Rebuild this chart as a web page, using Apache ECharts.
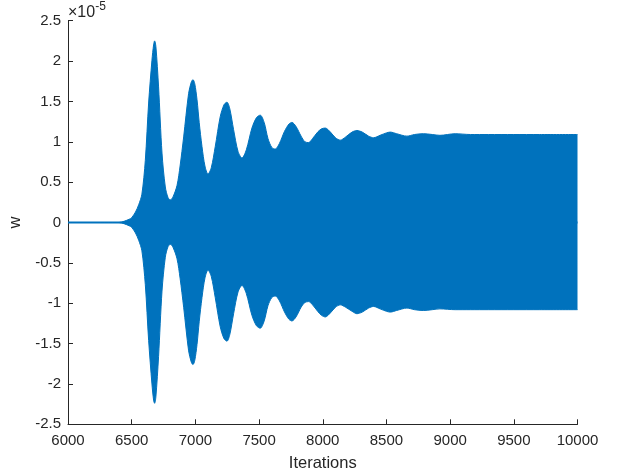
<!DOCTYPE html>
<html>
<head>
<meta charset="utf-8">
<script src="https://cdn.jsdelivr.net/npm/echarts@6/dist/echarts.min.js"></script>
<style>html,body{margin:0;padding:0;background:#fff}#c{width:623px;height:474px}</style>
</head>
<body>
<div id="c"></div>
<script>
// Envelope of the fast oscillation of w (values in units of 1e-5), shared iteration positions
const iters = [6000,6400,6440,6480,6500,6530,6555,6580,6607,6633,6659,6672,6680,6690,6711,6738,6764,6785,6803,6825,6856,6880,6908,6947,6968,6981,6995,7013,7030,7052,7075,7099,7125,7156,7195,7225,7248,7270,7300,7335,7366,7400,7444,7480,7509,7540,7570,7600,7627,7660,7700,7735,7758,7790,7830,7860,7889,7920,7960,7990,8020,8060,8100,8137,8180,8230,8268,8310,8360,8399,8450,8500,8530,8580,8661,8720,8790,8860,8920,9040,9160,9300,9500,9700,10000];
const upperW = [0,0,0.015,0.04,0.06,0.13,0.22,0.35,0.77,1.48,2.01,2.2,2.25,2.18,1.68,0.86,0.44,0.31,0.28,0.32,0.46,0.70,1.06,1.60,1.74,1.77,1.72,1.52,1.24,0.94,0.70,0.60,0.68,0.94,1.31,1.46,1.49,1.41,1.15,0.88,0.80,0.90,1.17,1.30,1.33,1.24,1.04,0.93,0.91,0.98,1.13,1.22,1.24,1.19,1.07,1.00,0.99,1.04,1.12,1.16,1.17,1.12,1.05,1.02,1.06,1.12,1.14,1.12,1.07,1.05,1.08,1.11,1.12,1.10,1.07,1.09,1.10,1.09,1.08,1.10,1.09,1.09,1.09,1.09,1.09];
const lowerW = [0,0,-0.015,-0.04,-0.06,-0.13,-0.22,-0.35,-0.77,-1.46,-2.0,-2.2,-2.24,-2.16,-1.66,-0.85,-0.43,-0.30,-0.27,-0.31,-0.45,-0.69,-1.05,-1.59,-1.73,-1.76,-1.71,-1.51,-1.23,-0.93,-0.69,-0.59,-0.67,-0.93,-1.29,-1.44,-1.47,-1.39,-1.13,-0.86,-0.78,-0.88,-1.15,-1.28,-1.31,-1.22,-1.03,-0.93,-0.91,-0.97,-1.11,-1.20,-1.22,-1.17,-1.05,-0.99,-0.98,-1.02,-1.10,-1.15,-1.17,-1.12,-1.05,-1.02,-1.05,-1.10,-1.13,-1.11,-1.06,-1.04,-1.07,-1.10,-1.11,-1.09,-1.06,-1.08,-1.09,-1.08,-1.07,-1.08,-1.08,-1.08,-1.08,-1.08,-1.08];
const xTicks = [6000,6500,7000,7500,8000,8500,9000,9500,10000];
const yTicks = [-2.5,-2,-1.5,-1,-0.5,0,0.5,1,1.5,2,2.5];
const xName = 'Iterations';
const yName = 'w';
const exponentBase = '×10';
const exponentPow = '-5';

const blue = '#0072BD';
const axisCol = '#262626';
const font = '"Liberation Sans", Arial, Helvetica, sans-serif';

const upperData = iters.map((x, i) => [x, upperW[i]]);
const lowerData = iters.map((x, i) => [x, lowerW[i]]);

const chart = echarts.init(document.getElementById('c'), null, {renderer: 'canvas'});
const axisCommon = {
  axisLine: {show: true, onZero: false, lineStyle: {color: axisCol, width: 1}},
  axisTick: {show: true, inside: true, length: 5, lineStyle: {color: axisCol}},
  splitLine: {show: false},
  axisLabel: {color: axisCol, fontSize: 15, fontFamily: font},
  nameTextStyle: {color: axisCol, fontSize: 16.5, fontFamily: font}
};
chart.setOption({
  animation: false,
  backgroundColor: '#fff',
  grid: {left: 68, right: 45.5, top: 20.7, bottom: 49.7, containLabel: false, outerBoundsMode: 'none'},
  xAxis: Object.assign({}, axisCommon, {
    type: 'value', min: xTicks[0], max: xTicks[xTicks.length - 1], interval: 500,
    name: xName, nameLocation: 'middle', nameGap: 31,
    axisLabel: Object.assign({}, axisCommon.axisLabel, {margin: 9, formatter: v => String(v)})
  }),
  yAxis: Object.assign({}, axisCommon, {
    type: 'value', min: yTicks[0], max: yTicks[yTicks.length - 1], interval: 0.5,
    name: yName, nameLocation: 'middle', nameGap: 40,
    axisLabel: Object.assign({}, axisCommon.axisLabel, {margin: 7, formatter: v => String(v)})
  }),
  graphic: [{
    type: 'text', left: 68, top: 1,
    style: {
      text: '{a|' + exponentBase + '}{b|' + exponentPow + '}',
      rich: {
        a: {fontSize: 16, fontFamily: font, fill: axisCol, verticalAlign: 'bottom', lineHeight: 18},
        b: {fontSize: 12, fontFamily: font, fill: axisCol, verticalAlign: 'top', padding: [0, 0, 8, 0]}
      }
    }
  }],
  series: [
    {type: 'line', data: upperData, smooth: 0.3, showSymbol: false,
     lineStyle: {color: blue, width: 1}, areaStyle: {color: blue, opacity: 1, origin: -0.012}, clip: true},
    {type: 'line', data: lowerData, smooth: 0.3, showSymbol: false,
     lineStyle: {color: blue, width: 1}, areaStyle: {color: blue, opacity: 1, origin: 0.012}, clip: true}
  ]
});
</script>
</body>
</html>
